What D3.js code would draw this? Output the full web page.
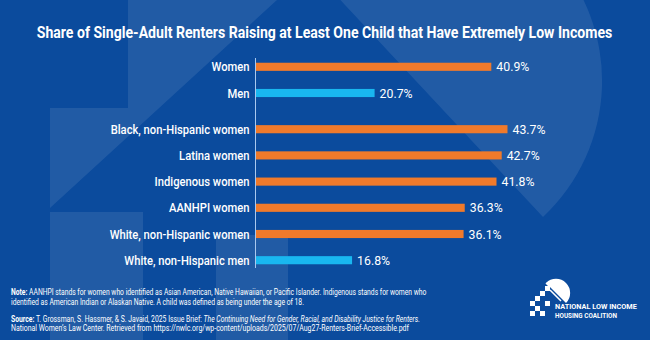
<!DOCTYPE html>
<html>
<head>
<meta charset="utf-8">
<script src="https://cdn.jsdelivr.net/npm/d3@7"></script>
<style>
  html, body { margin: 0; padding: 0; background: #0b4b9d; }
  svg { display: block; }
  text { font-family: Roboto, "Open Sans", "DejaVu Sans", sans-serif; fill: #fff; }
</style>
</head>
<body>
<svg id="chart" width="650" height="340"></svg>
<script>
// data
const categories = [
  "Women", "Men",
  "Black, non-Hispanic women", "Latina women", "Indigenous women",
  "AANHPI women", "White, non-Hispanic women", "White, non-Hispanic men"
];
const values = [40.9, 20.7, 43.7, 42.7, 41.8, 36.3, 36.1, 16.8];
const sexes = ["women", "men", "women", "women", "women", "women", "women", "men"];
const groups = ["all", "all", "race", "race", "race", "race", "race", "race"];

const title = "Share of Single-Adult Renters Raising at Least One Child that Have Extremely Low Incomes";
const noteLines = [
  [["Note:", "b"], [" AANHPI stands for women who identified as Asian American, Native Hawaiian, or Pacific Islander. Indigenous stands for women who", ""]],
  [["identified as American Indian or Alaskan Native. A child was defined as being under the age of 18.", ""]],
  [["Source:", "b"], [" T. Grossman, S. Hassmer, & S. Javaid, 2025 Issue Brief: ", ""], ["The Continuing Need for Gender, Racial, and Disability Justice for Renters.", "i"]],
  [["National Women\u2019s Law Center.  Retrieved from https://nwlc.org/wp-content/uploads/2025/07/Aug27-Renters-Brief-Accessible.pdf", ""]]
];
const logoLines = ["NATIONAL LOW INCOME", "HOUSING COALITION"];

const svg = d3.select("#chart");
const W = 650, H = 340;

// background + faint house watermark
svg.append("rect").attr("width", W).attr("height", H).attr("fill", "#0b4b9d");
const bg = svg.append("g").attr("fill", "#ffffff").attr("fill-opacity", 0.09);
bg.append("path").attr("d", "M543,217 A186,186 0 0,0 289,-55 Z");
bg.append("path").attr("d", "M128,0 L277,0 L50,208 L50,108 L128,108 Z");
bg.append("rect").attr("x", 50).attr("y", 212).attr("width", 93).attr("height", 128);
bg.append("rect").attr("x", 216).attr("y", 235).attr("width", 72).attr("height", 105);

// squeeze a text block horizontally so it fills a given width
function fit(sel, target) {
  const w = sel.node().getBBox().width;
  return w > 0 ? target / w : 1;
}

// title
const tg = svg.append("g");
const tt = tg.append("text").attr("text-anchor", "middle")
  .attr("font-size", 16.5).attr("font-weight", 700).text(title);
tg.attr("transform", `translate(324.5,37.5) scale(${fit(tt, 576)},1)`);

// scales
const x = d3.scaleLinear().domain([0, 45]).range([255, 515]);
const y = d3.scaleBand().domain(categories).range([53.7, 263.3])
  .paddingInner(0.69).paddingOuter(0.345);
const gap = { all: 0, race: 10 };
const color = d3.scaleOrdinal().domain(["women", "men"]).range(["#f07a2b", "#19b7f0"]);

const rows = categories.map((c, i) => ({ c, v: values[i], s: sexes[i], g: groups[i] }));
const cy = d => y(d.c) + y.bandwidth() / 2 + gap[d.g];

// axis line
svg.append("line")
  .attr("x1", x(0) + 0.5).attr("x2", x(0) + 0.5)
  .attr("y1", 58).attr("y2", 268)
  .attr("stroke", "#a9c8ee").attr("stroke-width", 1);

// bars
svg.append("g").selectAll("rect").data(rows).join("rect")
  .attr("x", x(0) + 1)
  .attr("y", d => cy(d) - y.bandwidth() / 2)
  .attr("width", d => x(d.v) - x(0) - 1)
  .attr("height", y.bandwidth())
  .attr("fill", d => color(d.s));

// category labels
const probe = svg.append("text").attr("font-size", 12.8).attr("font-weight", 500).text(categories[2]);
const kLab = fit(probe, 139);
probe.remove();
svg.append("g").selectAll("g").data(rows).join("g")
  .attr("transform", d => `translate(249.5,${cy(d)}) scale(${kLab},1)`)
  .append("text").attr("text-anchor", "end").attr("dy", "0.36em")
  .attr("font-size", 12.8).attr("font-weight", 500).text(d => d.c);

// value labels
const probe2 = svg.append("text").attr("font-size", 12.8).text("40.9%");
const kVal = fit(probe2, 33);
probe2.remove();
svg.append("g").selectAll("g").data(rows).join("g")
  .attr("transform", d => `translate(${x(d.v) + 5},${cy(d)}) scale(${kVal},1)`)
  .append("text").attr("dy", "0.36em").attr("font-size", 12.8)
  .text(d => d.v.toFixed(1) + "%");

// notes and source
const noteY = [294.5, 304.5, 321.5, 331];
const noteW = [416, 293, 409, 398];
noteLines.forEach((parts, i) => {
  const g = svg.append("g");
  const t = g.append("text").attr("font-size", 8.2);
  parts.forEach(([s, f]) => {
    t.append("tspan").text(s)
      .attr("font-weight", f === "b" ? 700 : 400)
      .attr("font-style", f === "i" ? "italic" : "normal");
  });
  g.attr("transform", `translate(11,${noteY[i]}) scale(${fit(t, noteW[i])},1)`);
});

// logo
const logo = svg.append("g").attr("fill", "#fff");
logo.append("path").attr("d", "M566,303 A14,14 0 0,0 546,283 Z");
const steps = [[545, 286], [540, 291], [535, 296], [530, 301], [535, 306], [540, 311], [530, 311], [545, 301]];
logo.selectAll("rect.sq").data(steps).join("rect")
  .attr("x", d => d[0]).attr("y", d => d[1]).attr("width", 5).attr("height", 5);
logo.append("path").attr("d", "M549,286 L546,283 M550,290 L561,301")
  .attr("stroke", "#fff").attr("stroke-width", 1.5).attr("fill", "none");
logoLines.forEach((s, i) => {
  const g = svg.append("g");
  const t = g.append("text").attr("font-size", 7).attr("font-weight", 700).text(s);
  g.attr("transform", `translate(555,${309 + i * 8.5}) scale(${fit(t, i ? 62 : 82)},1)`);
});
</script>
</body>
</html>
